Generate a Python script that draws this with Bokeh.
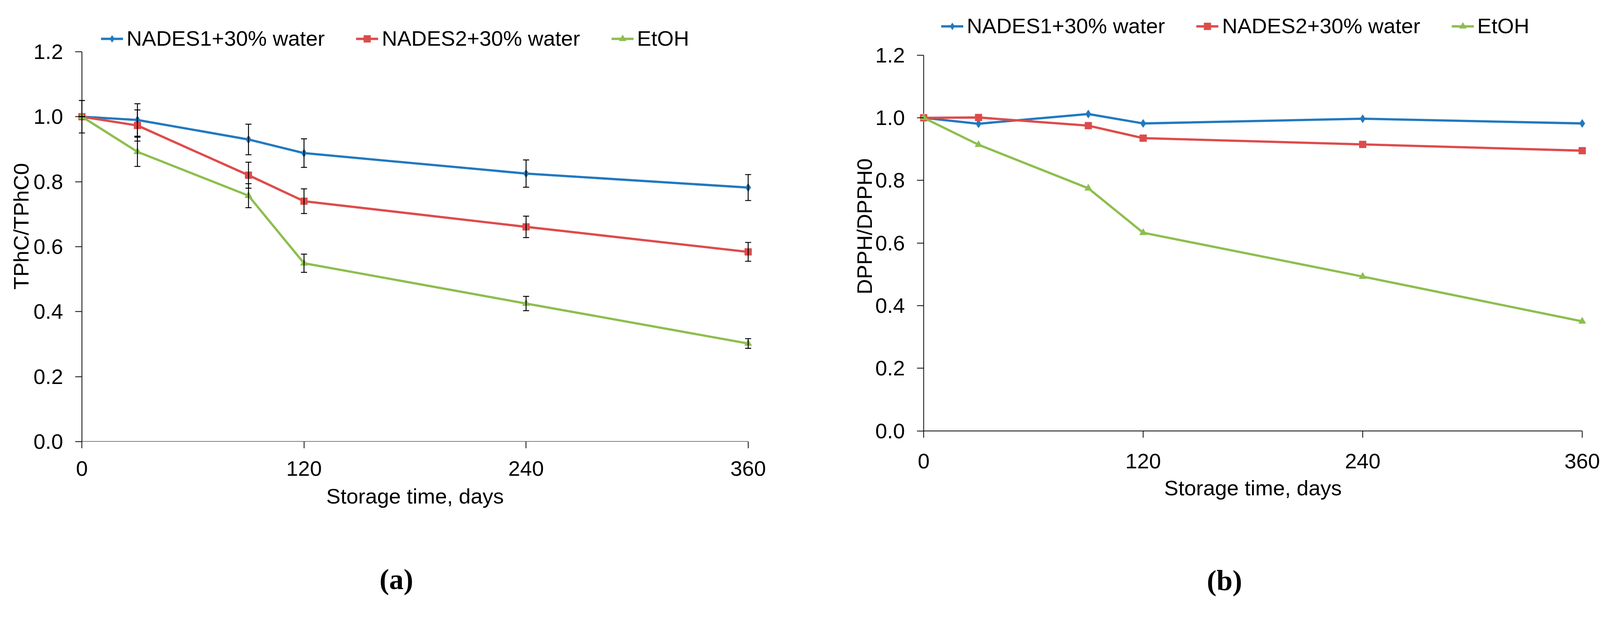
from bokeh.embed import file_html
from bokeh.resources import INLINE
from bokeh.layouts import row
from bokeh.models import (ColumnDataSource, Range1d, FixedTicker, NumeralTickFormatter,
                          Whisker, TeeHead, Legend, LegendItem, Title)
from bokeh.plotting import figure

# storage time (days)
days = [0, 30, 90, 120, 240, 360]
names = ["NADES1+30% water", "NADES2+30% water", "EtOH"]
colors = ["#2179C0", "#DE4B4B", "#8DBE4E"]

# (a) TPhC/TPhC0
tphc_nades1 = [1.000, 0.990, 0.930, 0.888, 0.825, 0.782]
tphc_nades1_err = [0.050, 0.050, 0.047, 0.044, 0.042, 0.040]
tphc_nades2 = [1.000, 0.973, 0.820, 0.740, 0.661, 0.584]
tphc_nades2_err = [0.000, 0.048, 0.040, 0.038, 0.033, 0.029]
tphc_etoh = [1.000, 0.892, 0.757, 0.549, 0.425, 0.302]
tphc_etoh_err = [0.000, 0.045, 0.037, 0.028, 0.022, 0.015]

# (b) DPPH/DPPH0
dpph_nades1 = [1.000, 0.981, 1.012, 0.982, 0.997, 0.982]
dpph_nades2 = [1.000, 1.001, 0.975, 0.935, 0.915, 0.895]
dpph_etoh = [1.000, 0.914, 0.775, 0.633, 0.493, 0.350]

x_ticks = [0, 120, 240, 360]
y_ticks = [0.0, 0.2, 0.4, 0.6, 0.8, 1.0, 1.2]

FONT = "Liberation Sans"
FS = "54.5px"
PAD = 3  # days of room so the end markers are not clipped


def make_panel(ylabel, values, errors, frame, borders, yrange, ylab_std,
               xtick, legend_pos, tag, tag_offset, tag_standoff):
    left, right, top, bottom = borders
    fw, fh = frame
    p = figure(frame_width=fw, frame_height=fh, output_backend="svg", toolbar_location=None,
               x_range=Range1d(x_ticks[0] - PAD, x_ticks[-1] + PAD),
               y_range=Range1d(*yrange),
               min_border_left=left, min_border_right=right,
               min_border_top=top, min_border_bottom=bottom)
    p.outline_line_color = None
    p.grid.visible = False

    # axes sit at the frame edges; their lines are drawn at day 0 and at 0.0
    p.segment(x0=[x_ticks[0]], y0=[y_ticks[0]], x1=[x_ticks[0]], y1=[y_ticks[-1]],
              line_color="black", line_width=2)
    p.segment(x0=[x_ticks[0]], y0=[y_ticks[0]], x1=[x_ticks[-1]], y1=[y_ticks[0]],
              line_color="black", line_width=2)

    p.xaxis.ticker = FixedTicker(ticks=x_ticks)
    p.yaxis.ticker = FixedTicker(ticks=y_ticks)
    p.yaxis.formatter = NumeralTickFormatter(format="0.0")
    p.xaxis.bounds = (x_ticks[0], x_ticks[-1])
    p.yaxis.bounds = (y_ticks[0], y_ticks[-1])
    p.xaxis.axis_label = "Storage time, days"
    p.yaxis.axis_label = ylabel
    for ax in (p.xaxis, p.yaxis):
        ax.axis_line_color = None
        ax.major_tick_line_width = 2
        ax.major_tick_line_color = "black"
        ax.minor_tick_line_color = None
        ax.major_label_text_font = FONT
        ax.major_label_text_font_size = FS
        ax.major_label_text_color = "black"
        ax.axis_label_text_font = FONT
        ax.axis_label_text_font_size = FS
        ax.axis_label_text_font_style = "normal"
        ax.axis_label_text_color = "black"
    tin, tout, lstd, astd = xtick
    p.xaxis.major_tick_in = tin
    p.xaxis.major_tick_out = tout
    p.xaxis.major_label_standoff = lstd
    p.xaxis.axis_label_standoff = astd
    p.yaxis.major_tick_in = 14
    p.yaxis.major_tick_out = 3
    p.yaxis.major_label_standoff = 31
    p.yaxis.axis_label_standoff = ylab_std

    markers = ["diamond", "square", "triangle"]
    sizes = [21, 17.5, 18.5]
    items = []
    for i, name in enumerate(names):
        src = dict(x=days, y=values[i])
        if errors is not None:
            src["upper"] = [v + e for v, e in zip(values[i], errors[i])]
            src["lower"] = [v - e for v, e in zip(values[i], errors[i])]
        source = ColumnDataSource(src)
        ln = p.line("x", "y", source=source, line_color=colors[i], line_width=5.8,
                    line_join="round")
        mk = p.scatter("x", "y", source=source, marker=markers[i], size=sizes[i],
                       fill_color=colors[i], line_color=colors[i])
        items.append(LegendItem(label=name, renderers=[ln, mk]))
        if errors is not None:
            p.add_layout(Whisker(source=source, base="x", upper="upper", lower="lower",
                                 line_color="black", line_width=2.4, level="overlay",
                                 upper_head=TeeHead(size=15.5, line_width=2.4, line_color="black"),
                                 lower_head=TeeHead(size=15.5, line_width=2.4, line_color="black")))

    legend = Legend(items=items, orientation="horizontal", location=legend_pos,
                    border_line_color=None, background_fill_alpha=0,
                    padding=0, margin=0, spacing=80, label_standoff=9,
                    glyph_width=57, glyph_height=44,
                    label_text_font=FONT, label_text_font_size=FS,
                    label_text_color="black")
    p.add_layout(legend)

    p.add_layout(Title(text="(" + tag + ")", align="left", offset=tag_offset,
                       standoff=tag_standoff, text_font="Liberation Serif",
                       text_font_size="74px", text_font_style="bold",
                       text_color="black"), "below")
    return p


pa = make_panel("TPhC/TPhC0",
                [tphc_nades1, tphc_nades2, tphc_etoh],
                [tphc_nades1_err, tphc_nades2_err, tphc_etoh_err],
                (1734, 1102), (195, 150, 28, 380), (0.0, 1.325), -2,
                (0, 17, 33, 19), (63, 1000), "a", 776, 272)
pb = make_panel("DPPH/DPPH0",
                [dpph_nades1, dpph_nades2, dpph_etoh], None,
                (1714, 1102), (271, 100, 28, 380), (-0.034, 1.3406), -6,
                (27, -10, 31, 17), (59, 1032), "b", 739, 320)

layout = row(pa, pb)
open("out.html", "w").write(file_html(layout, INLINE))
